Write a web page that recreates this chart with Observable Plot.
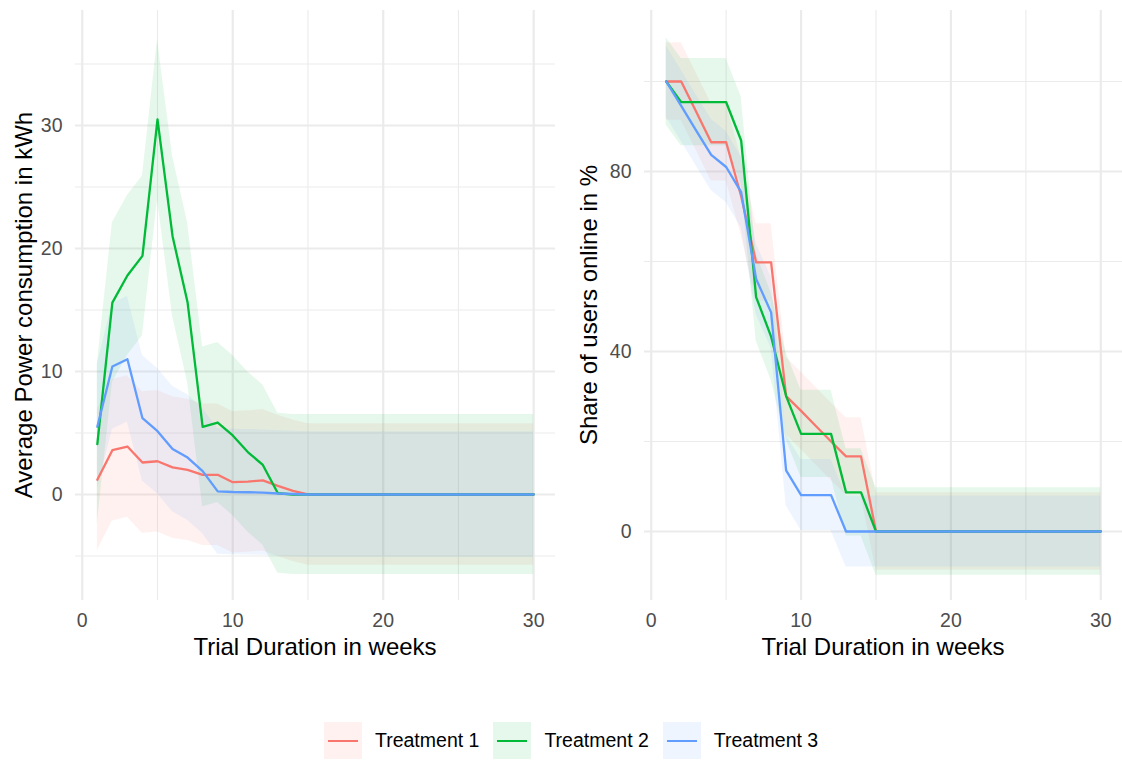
<!DOCTYPE html>
<html><head><meta charset="utf-8">
<script src="https://cdn.jsdelivr.net/npm/d3@7"></script>
<script src="https://cdn.jsdelivr.net/npm/@observablehq/plot@0.6"></script>
<style>
body{margin:0;background:#fff;overflow:hidden;font-family:"Liberation Sans",Arial,sans-serif}
#wrap{position:relative;width:1122px;height:760px;overflow:hidden}
#p1,#p2{position:absolute;top:0}
#p1{left:0}#p2{left:561px}
#legend{position:absolute;top:722px;left:324px;display:flex;align-items:center;height:37px}
.key{position:relative;width:38px;height:37px}
.key i{position:absolute;left:4px;right:4px;top:17.5px;height:2.3px}
.lab{font-size:19.5px;color:#000;margin-left:13px;margin-right:14px;white-space:nowrap}
</style></head>
<body><div id="wrap"><div id="p1"></div><div id="p2"></div><div id="legend"></div></div>
<script>
const treatments = ["Treatment 1", "Treatment 2", "Treatment 3"];
const colors = ["#F8766D", "#00BA38", "#619CFF"];
const weeks = [1,2,3,4,5,6,7,8,9,10,11,12,13,14,15,16,17,18,19,20,21,22,23,24,25,26,27,28,29,30];

// Average power consumption (kWh)
const powerT1 = [1.2,3.6,3.9,2.6,2.7,2.2,2.0,1.6,1.6,1.0,1.05,1.15,0.7,0.3,0,0,0,0,0,0,0,0,0,0,0,0,0,0,0,0];
const powerT2 = [4.1,15.6,17.8,19.4,30.5,21.0,15.6,5.5,5.85,4.8,3.45,2.4,0.1,0,0,0,0,0,0,0,0,0,0,0,0,0,0,0,0,0];
const powerT3 = [5.5,10.4,11.0,6.2,5.15,3.7,3.0,1.9,0.25,0.2,0.18,0.15,0.08,0.04,0,0,0,0,0,0,0,0,0,0,0,0,0,0,0,0];
const powerBand = [5.75, 6.5, 5.1]; // half-width of ribbon per treatment

// Share of users online (%)
const shareT1 = [100,100,93.3,86.5,86.5,74.5,59.8,59.8,30.1,26.8,23.4,20.0,16.7,16.7,0,0,0,0,0,0,0,0,0,0,0,0,0,0,0,0];
const shareT2 = [100,95.4,95.4,95.4,95.4,86.9,52.1,43.3,30.1,21.7,21.7,21.7,8.7,8.7,0,0,0,0,0,0,0,0,0,0,0,0,0,0,0,0];
const shareT3 = [100,94.6,89.1,83.7,81.0,75.4,56.1,48.7,13.6,8.1,8.1,8.1,0,0,0,0,0,0,0,0,0,0,0,0,0,0,0,0,0,0];
const shareBand = [8.6, 9.7, 7.9];

const xTicks = [0, 10, 20, 30];
const xMinor = [5, 15, 25];
const powerTicks = [0, 10, 20, 30];
const powerMinor = [-5, 5, 15, 25, 35];
const shareTicks = [0, 40, 80];
const shareMinor = [20, 60, 100];

function rows(series, band) {
  const out = [];
  series.forEach((s, i) => s.forEach((v, j) => out.push({
    week: weeks[j], value: v, lo: v - band[i], hi: v + band[i], treat: treatments[i]
  })));
  return out;
}

const FONT = "'Liberation Sans', Arial, sans-serif";

function panel(el, data, opts) {
  const chart = Plot.plot({
    width: 561, height: 670,
    marginLeft: opts.ml, marginRight: opts.mr, marginTop: 10, marginBottom: 70,
    style: {fontFamily: FONT, fontSize: "19.5px", background: "transparent", overflow: "visible"},
    x: {domain: [-0.45, 31.45]},
    y: {domain: opts.yDomain},
    color: {domain: treatments, range: colors},
    marks: [
      Plot.gridX(xMinor, {stroke: "#EBEBEB", strokeOpacity: 1, strokeWidth: 1.1}),
      Plot.gridY(opts.minor, {stroke: "#EBEBEB", strokeOpacity: 1, strokeWidth: 1.1}),
      Plot.gridX(xTicks, {stroke: "#EBEBEB", strokeOpacity: 1, strokeWidth: 2.2}),
      Plot.gridY(opts.ticks, {stroke: "#EBEBEB", strokeOpacity: 1, strokeWidth: 2.2}),
      Plot.areaY(data, {x: "week", y1: "lo", y2: "hi", z: "treat", fill: "treat", fillOpacity: 0.1}),
      Plot.line(data, {x: "week", y: "value", z: "treat", stroke: "treat", strokeWidth: 2.3}),
      Plot.axisX(xTicks, {tickSize: 0, tickPadding: 13, label: null, fill: "#4D4D4D", fontSize: 19.5}),
      Plot.axisY(opts.ticks, {tickSize: 0, tickPadding: 13, label: null, fill: "#4D4D4D", fontSize: 19.5})
    ]
  });
  const svg = d3.select(chart);
  svg.append("text").attr("x", opts.xTitleX).attr("y", 655)
    .attr("text-anchor", "middle").attr("font-size", 24).attr("fill", "#000")
    .attr("font-family", FONT).text("Trial Duration in weeks");
  svg.append("text").attr("transform", `translate(${opts.yTitleX},305) rotate(-90)`)
    .attr("text-anchor", "middle").attr("font-size", 24).attr("fill", "#000")
    .attr("font-family", FONT).text(opts.yTitle);
  el.appendChild(chart);
}

panel(document.getElementById("p1"), rows([powerT1, powerT2, powerT3], powerBand), {
  ml: 75, mr: 6, yDomain: [-8.62, 39.35], ticks: powerTicks, minor: powerMinor,
  xTitleX: 315, yTitleX: 32, yTitle: "Average Power consumption in kWh"
});
panel(document.getElementById("p2"), rows([shareT1, shareT2, shareT3], shareBand), {
  ml: 83, mr: 0, yDomain: [-15.33, 115.78], ticks: shareTicks, minor: shareMinor,
  xTitleX: 322, yTitleX: 36, yTitle: "Share of users online in %"
});

const legend = document.getElementById("legend");
treatments.forEach((t, i) => {
  const key = document.createElement("div");
  key.className = "key";
  key.style.background = d3.color(colors[i]).copy({opacity: 0.1}).toString();
  const line = document.createElement("i");
  line.style.background = colors[i];
  key.appendChild(line);
  const lab = document.createElement("span");
  lab.className = "lab";
  lab.textContent = t;
  legend.appendChild(key);
  legend.appendChild(lab);
});
</script></body></html>
